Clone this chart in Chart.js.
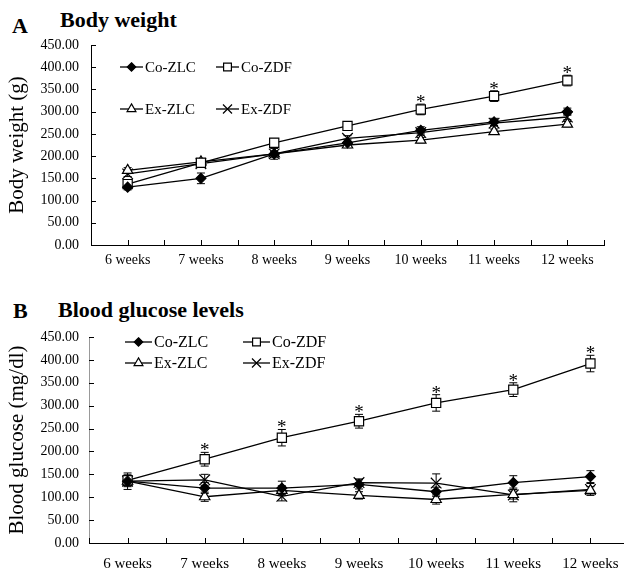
<!DOCTYPE html>
<html>
<head>
<meta charset="utf-8">
<script src="https://cdn.jsdelivr.net/npm/chart.js@4.4.0/dist/chart.umd.min.js"></script>
<style>
html, body { margin: 0; padding: 0; background: #fff; overflow: hidden; }
#wrap { position: relative; width: 624px; height: 569px; overflow: hidden; font-family: "Liberation Serif", serif; }
.ttl { position: absolute; font-weight: bold; color: #000; white-space: nowrap; line-height: 1; }
#boxA { position: absolute; left: 0; top: 0; width: 624px; height: 290px; }
#boxB { position: absolute; left: 0; top: 290px; width: 660px; height: 300px; }
</style>
</head>
<body>
<div id="wrap">
  <div class="ttl" style="left:12px;top:15px;font-size:22px;">A</div>
  <div class="ttl" style="left:60px;top:9px;font-size:22px;">Body weight</div>
  <div class="ttl" style="left:13px;top:300px;font-size:22px;">B</div>
  <div class="ttl" style="left:58px;top:299px;font-size:22px;">Blood glucose levels</div>
  <div id="boxA"><canvas id="chartA"></canvas></div>
  <div id="boxB"><canvas id="chartB"></canvas></div>
</div>
<script>
var weeks = ['6 weeks', '7 weeks', '8 weeks', '9 weeks', '10 weeks', '11 weeks', '12 weeks'];
var groups = ['Co-ZLC', 'Co-ZDF', 'Ex-ZLC', 'Ex-ZDF'];

// body weight (g)
var bwCoZLC = [130, 150, 205, 230, 258, 277, 300];
var bwCoZDF = [137, 185, 230, 268, 305, 335, 370];
var bwExZLC = [168, 187, 205, 225, 236, 255, 272];
var bwExZDF = [160, 183, 205, 240, 253, 274, 288];
var bwErrCoZLC = [6, 12, 12, 8, 8, 8, 8];
var bwErrCoZDF = [10, 8, 8, 7, 12, 12, 12];
var bwErrExZLC = [6, 6, 6, 6, 6, 6, 6];
var bwErrExZDF = [6, 6, 6, 6, 6, 6, 6];
var bwStars = [0, 0, 0, 0, 1, 1, 1];

// blood glucose (mg/dl)
var bgCoZLC = [135, 120, 120, 128, 112, 132, 145];
var bgCoZDF = [137, 183, 230, 266, 306, 335, 392];
var bgExZLC = [135, 101, 115, 104, 95, 106, 115];
var bgExZDF = [135, 138, 102, 132, 131, 105, 117];
var bgErrCoZLC = [18, 12, 15, 10, 10, 15, 13];
var bgErrCoZDF = [12, 15, 18, 15, 18, 15, 18];
var bgErrExZLC = [10, 10, 10, 8, 10, 10, 8];
var bgErrExZDF = [12, 12, 10, 8, 20, 15, 13];
var bgStars = [0, 1, 1, 1, 1, 1, 1];

var serif = 'Liberation Serif';
var styles = [
  {pointStyle: 'rectRot', pointRadius: 5, fill: '#000'},
  {pointStyle: 'rect', pointRadius: 6.5, fill: '#fff'},
  {pointStyle: 'triangle', pointRadius: 6, fill: '#fff'},
  {pointStyle: 'crossRot', pointRadius: 7.5, fill: '#fff'}
];

function marker(ctx, style, x, y, r) {
  ctx.beginPath();
  if (style == 'rectRot') {
    ctx.moveTo(x, y - r); ctx.lineTo(x + r, y); ctx.lineTo(x, y + r); ctx.lineTo(x - r, y); ctx.closePath();
  } else if (style == 'rect') {
    var s = r * Math.SQRT1_2;
    ctx.rect(x - s, y - s, 2 * s, 2 * s);
  } else if (style == 'triangle') {
    ctx.moveTo(x, y - r);
    ctx.lineTo(x + r * 0.866, y + r / 2);
    ctx.lineTo(x - r * 0.866, y + r / 2);
    ctx.closePath();
  } else {
    var d = r * Math.SQRT1_2;
    ctx.moveTo(x - d, y - d); ctx.lineTo(x + d, y + d);
    ctx.moveTo(x + d, y - d); ctx.lineTo(x - d, y + d);
  }
  if (style != 'crossRot') ctx.fill();
  ctx.stroke();
}

var extras = {
  id: 'extras',
  beforeDatasetsDraw: function(chart, args, opts) {
    var ctx = chart.ctx, ys = chart.scales.y;
    ctx.save();
    ctx.strokeStyle = '#000';
    ctx.lineWidth = 1;
    chart.data.datasets.forEach(function(ds, i) {
      var meta = chart.getDatasetMeta(i);
      meta.data.forEach(function(pt, j) {
        var e = opts.errors[i][j];
        var top = ys.getPixelForValue(ds.data[j] + e);
        var bot = ys.getPixelForValue(ds.data[j] - e);
        ctx.beginPath();
        ctx.moveTo(pt.x, top); ctx.lineTo(pt.x, bot);
        ctx.moveTo(pt.x - 4, top); ctx.lineTo(pt.x + 4, top);
        ctx.moveTo(pt.x - 4, bot); ctx.lineTo(pt.x + 4, bot);
        ctx.stroke();
      });
    });
    ctx.restore();
  },
  afterDraw: function(chart, args, opts) {
    var ctx = chart.ctx, xs = chart.scales.x, ys = chart.scales.y;
    ctx.save();
    ctx.fillStyle = '#000';
    ctx.strokeStyle = '#000';
    ctx.lineWidth = 1;
    // inside tick marks
    var n = chart.data.labels.length;
    ctx.beginPath();
    for (var k = 0; k <= 2 * n; k++) {
      var tx = Math.round(xs.left + k * (xs.right - xs.left) / (2 * n)) + 0.5;
      ctx.moveTo(tx, ys.bottom); ctx.lineTo(tx, ys.bottom - 5);
    }
    ys.ticks.forEach(function(t) {
      var ty = Math.round(ys.getPixelForValue(t.value)) + 0.5;
      ctx.moveTo(xs.left, ty); ctx.lineTo(xs.left + 5, ty);
    });
    ctx.stroke();

    // asterisks over Co-ZDF
    var zdf = chart.data.datasets[1];
    var meta = chart.getDatasetMeta(1);
    ctx.font = '19px "' + serif + '"';
    ctx.textAlign = 'center';
    ctx.textBaseline = 'alphabetic';
    opts.stars.forEach(function(s, j) {
      if (!s) return;
      var y = ys.getPixelForValue(zdf.data[j] + opts.errors[1][j]);
      ctx.fillText('*', meta.data[j].x, y + 4);
    });

    // legend, 2 x 2
    var lg = opts.legend;
    ctx.font = lg.size + 'px "' + serif + '"';
    ctx.textAlign = 'left';
    ctx.textBaseline = 'middle';
    chart.data.datasets.forEach(function(ds, i) {
      var lx = lg.x[i % 2], ly = lg.y[Math.floor(i / 2)];
      ctx.lineWidth = 1.3;
      ctx.beginPath();
      ctx.moveTo(lx, ly); ctx.lineTo(lx + lg.line, ly);
      ctx.stroke();
      ctx.lineWidth = 1.2;
      ctx.fillStyle = styles[i].fill;
      marker(ctx, styles[i].pointStyle, lx + lg.line / 2, ly, styles[i].pointRadius * 0.85);
      ctx.fillStyle = '#000';
      ctx.fillText(ds.label, lx + lg.line + 2, ly + 1);
    });
    ctx.restore();
  }
};

function makeDatasets(series) {
  return series.map(function(vals, i) {
    return {
      label: groups[i],
      data: vals,
      borderColor: '#000',
      borderWidth: 1.3,
      pointStyle: styles[i].pointStyle,
      pointRadius: styles[i].pointRadius,
      pointBackgroundColor: styles[i].fill,
      pointBorderColor: '#000',
      pointBorderWidth: 1.2,
      tension: 0
    };
  });
}

function makeChart(id, series, errors, stars, yTitle, cfg) {
  var ctx = document.getElementById(id).getContext('2d');
  return new Chart(ctx, {
    type: 'line',
    data: { labels: weeks, datasets: makeDatasets(series) },
    options: {
      responsive: true,
      maintainAspectRatio: false,
      animation: false,
      layout: { padding: { top: cfg.top, right: cfg.right, left: 0, bottom: 0 } },
      plugins: {
        legend: { display: false },
        tooltip: { enabled: false },
        extras: { errors: errors, stars: stars, legend: cfg.legend }
      },
      scales: {
        x: {
          offset: true,
          grid: { display: false, drawTicks: false, offset: true },
          border: { color: '#000', width: 1 },
          ticks: { color: '#000', font: { family: serif, size: cfg.xFont }, padding: cfg.xPad, maxRotation: 0, autoSkip: false },
          afterFit: function(a) { a.height = cfg.xHeight; }
        },
        y: {
          min: 0,
          max: 450,
          grid: { display: false, drawTicks: false },
          border: { color: cfg.yColor, width: 1 },
          ticks: {
            stepSize: 50,
            color: '#000',
            font: { family: serif, size: 14 },
            padding: cfg.yPad,
            callback: function(v) { return v.toFixed(2); }
          },
          title: { display: true, text: yTitle, color: '#000', font: { family: serif, size: 21 }, padding: { top: 5, bottom: 0 } },
          afterFit: function(a) { a.width = cfg.yWidth; }
        }
      }
    },
    plugins: [extras]
  });
}

makeChart('chartA',
  [bwCoZLC, bwCoZDF, bwExZLC, bwExZDF],
  [bwErrCoZLC, bwErrCoZDF, bwErrExZLC, bwErrExZDF],
  bwStars, 'Body weight (g)',
  { top: 45, right: 20, xHeight: 45, xFont: 14, xPad: 7, yWidth: 91, yPad: 12, yColor: '#000',
    legend: { x: [120, 216], y: [67, 109], line: 23, size: 15 } });

makeChart('chartB',
  [bgCoZLC, bgCoZDF, bgExZLC, bgExZDF],
  [bgErrCoZLC, bgErrCoZDF, bgErrExZLC, bgErrExZDF],
  bgStars, 'Blood glucose (mg/dl)',
  { top: 47, right: 31, xHeight: 47, xFont: 15, xPad: 12, yWidth: 89, yPad: 10, yColor: '#999',
    legend: { x: [125, 243], y: [52, 73], line: 27, size: 16 } });
</script>
</body>
</html>
